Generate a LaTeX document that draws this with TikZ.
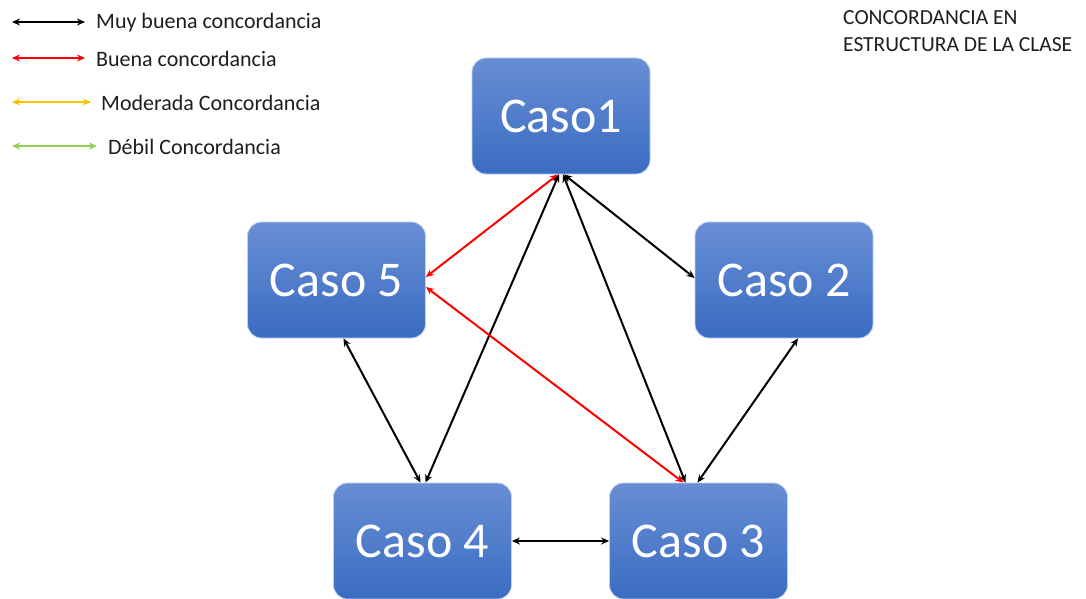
\documentclass[tikz,border=0pt]{standalone}
\usepackage{fontspec}
\setmainfont{Carlito}
\usetikzlibrary{arrows.meta}
\definecolor{boxtop}{RGB}{104,142,212}
\definecolor{boxbot}{RGB}{58,108,194}
\definecolor{boxedge}{RGB}{190,210,240}
\definecolor{legorange}{RGB}{255,192,0}
\definecolor{leggreen}{RGB}{146,208,80}
\definecolor{txtgray}{RGB}{30,30,30}
\tikzset{
  caso/.style={rectangle, rounded corners=14pt, minimum width=178pt, minimum height=116pt,
    top color=boxtop, bottom color=boxbot, draw=boxedge, line width=0.8pt,
    text=white, font=\fontsize{50}{56}\selectfont, inner sep=0pt},
  conn/.style={line width=2pt, {Stealth[length=8pt,width=7pt]}-{Stealth[length=8pt,width=7pt]}},
  legtext/.style={anchor=west, text=txtgray, font=\fontsize{22}{24}\selectfont, inner sep=0pt},
  titletext/.style={anchor=north west, text=txtgray, font=\fontsize{21.5}{27}\selectfont, inner sep=0pt, align=left}
}
\begin{document}
\begin{tikzpicture}[x=1pt,y=1pt]
\useasboundingbox (0,0) rectangle (1086,-599);
% boxes
\node[caso] (c1) at (561,-116) {Caso1};
\node[caso] (c5) at (336.5,-280) {Caso 5};
\node[caso] (c2) at (784,-280) {Caso 2};
\node[caso] (c4) at (422.5,-541) {Caso 4};
\node[caso] (c3) at (698.5,-541) {Caso 3};
% connectors
\draw[conn, red] ([xshift=-3pt]c1.south) -- ([yshift=3pt]c5.east);
\draw[conn, black] ([xshift=3pt]c1.south) -- ([yshift=2pt]c2.west);
\draw[conn, black] ([xshift=-2pt]c1.south) -- ([xshift=3pt]c4.north);
\draw[conn, black] ([xshift=2pt]c1.south) -- ([xshift=-13pt]c3.north);
\draw[conn, red] ([yshift=-7pt]c5.east) -- ([xshift=-15pt]c3.north);
\draw[conn, black] ([xshift=7pt]c5.south) -- ([xshift=-2pt]c4.north);
\draw[conn, black] ([xshift=14pt]c2.south) -- ([xshift=-1pt]c3.north);
\draw[conn, black] (c4.east) -- (c3.west);
% legend
\coordinate (l1a) at (12,-22); \coordinate (l1b) at (85,-22);
\coordinate (l2a) at (12,-58); \coordinate (l2b) at (85,-58);
\coordinate (l3a) at (12,-102); \coordinate (l3b) at (91,-102);
\coordinate (l4a) at (12,-146); \coordinate (l4b) at (97,-146);
\draw[conn, black, line width=1.7pt] (l1a) -- (l1b);
\draw[conn, red, line width=1.7pt] (l2a) -- (l2b);
\draw[conn, legorange, line width=1.7pt] (l3a) -- (l3b);
\draw[conn, leggreen, line width=1.7pt] (l4a) -- (l4b);
\node[legtext] (t1) at (96,-23) {Muy buena concordancia};
\node[legtext] (t2) at (96,-59) {Buena concordancia};
\node[legtext] (t3) at (101,-103) {Moderada Concordancia};
\node[legtext] (t4) at (108,-147) {Débil Concordancia};
\node[titletext] (title) at (843,-10) {CONCORDANCIA EN\\ESTRUCTURA DE LA CLASE};
\end{tikzpicture}
\end{document}
